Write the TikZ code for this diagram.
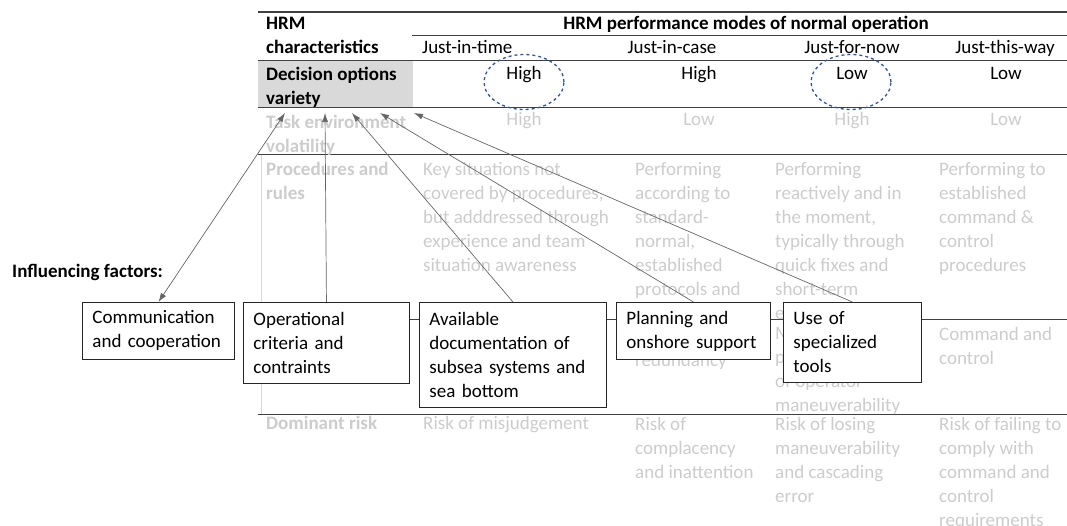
\documentclass[tikz,border=0pt]{standalone}
\usepackage{fontspec}
\setmainfont{Carlito}
\usepackage{xcolor}
\usetikzlibrary{positioning,arrows.meta,shapes.geometric}
\newcommand{\fs}{\fontsize{19}{24}\selectfont}
\definecolor{ringblue}{RGB}{47,85,151}
\colorlet{fadetext}{black!20}

\begin{document}
\begin{tikzpicture}[x=1pt,y=-1pt,
  every node/.style={font=\fs},
  txt/.style={anchor=north west,inner sep=0pt,align=left,yshift=-5pt},
  word/.style={anchor=north west,inner sep=0pt,execute at begin node=\strut},
  cword/.style={anchor=north,inner sep=0pt,execute at begin node=\strut},
  faded/.style={text=fadetext},
  rule/.style={draw=black!75,line width=1pt},
  factor/.style={draw=black!85,line width=0.9pt,fill=white,anchor=north west,align=left,
    inner xsep=10pt,inner ysep=0pt},
  link/.style={draw=black!60,line width=0.7pt,-{Latex[length=9pt,width=6pt]}},
  ring/.style={ellipse,draw=ringblue,dashed,line width=1.3pt,minimum width=80,minimum height=55}
]
  \useasboundingbox (0,0) rectangle (1067,526);

  % table
  \node[fill=black!15,anchor=north west,inner sep=0pt,minimum width=155,minimum height=47] (graycell) at (258,61) {};
  \draw[rule,line width=1.3pt] (258,12) -- (1067,12);
  \draw[rule,line width=0.8pt] (412,35) -- (1067,35);
  \foreach \y in {61,108,155,319,414}
    \draw[rule] (258,\y) -- (1067,\y);
  \draw[black!15,line width=0.5pt] (261,155) -- (261,414);

  \node[txt,font=\fs\bfseries] (hrmchar) at (266,12) {HRM\\characteristics};
  \node[cword,font=\fs\bfseries] (modes) at (746,13) {HRM performance modes of normal operation};
  \node[word] (jit) at (422,37) {Just-in-time};
  \node[cword] (jic) at (672,37) {Just-in-case};
  \node[cword] (jfn) at (852,37) {Just-for-now};
  \node[cword] (jtw) at (1005,37) {Just-this-way};

  \node[txt,font=\fs\bfseries] (decision) at (266,62) {Decision options\\variety};
  \node[cword] (dv1) at (524,63) {High};
  \node[cword] (dv2) at (699,63) {High};
  \node[cword] (dv3) at (852,63) {Low};
  \node[cword] (dv4) at (1006,63) {Low};

  % faded rows
  \node[txt,faded,font=\fs\bfseries] (volat) at (266,110) {Task environment\\volatility};
  \node[cword,faded] (tv1) at (524,109) {High};
  \node[cword,faded] (tv2) at (699,109) {Low};
  \node[cword,faded] (tv3) at (852,109) {High};
  \node[cword,faded] (tv4) at (1006,109) {Low};

  \node[txt,faded,font=\fs\bfseries] (proc) at (266,157) {Procedures and\\rules};
  \node[txt,faded] (pr1) at (423,157) {Key situations not\\covered by procedures,\\but adddressed through\\experience and team\\situation awareness};
  \node[txt,faded] (pr2) at (635,157) {Performing\\according to\\standard-\\normal,\\established\\protocols and};
  \node[txt,faded] (pr3) at (775,157) {Performing\\reactively and in\\the moment,\\typically through\\quick fixes and\\short-term\\e};
  \node[txt,faded] (pr4) at (939,157) {Performing to\\established\\command \&\\control\\procedures};

  \node[word,faded] (cc2) at (635,349) {redundancy};
  \node[txt,faded] (cc3) at (775,322) {M\\p\\of operator\\maneuverability};
  \node[txt,faded] (cc4) at (939,322) {Command and\\control};

  \node[word,faded,font=\fs\bfseries] (risk) at (266,412) {Dominant risk};
  \node[word,faded] (rk1) at (423,412) {Risk of misjudgement};
  \node[txt,faded] (rk2) at (635,412) {Risk of\\complacency\\and inattention};
  \node[txt,faded] (rk3) at (775,412) {Risk of losing\\maneuverability\\and cascading\\error};
  \node[txt,faded] (rk4) at (939,412) {Risk of failing to\\comply with\\command and\\control\\requirements};

  % influencing factors
  \node[word,font=\fs\bfseries] (influence) at (12,261) {Influencing factors:};
  \node[factor,minimum width=152,minimum height=57,text width=132pt] (comm) at (82,302) {Communication\\and cooperation};
  \node[factor,minimum width=166,minimum height=81,text width=146pt] (opcrit) at (243,302) {Operational\\criteria and\\contraints};
  \node[factor,minimum width=187,minimum height=105,text width=167pt] (avail) at (419,302) {Available\\documentation of\\subsea systems and\\sea bottom};
  \node[factor,minimum width=154,minimum height=57,text width=134pt] (onshore) at (616,302) {Planning and\\onshore support};
  \node[factor,minimum width=138,minimum height=80,text width=118pt] (tools) at (783,302) {Use of\\specialized\\tools};

  \coordinate (tip1) at (285,113);
  \coordinate (tip2) at (325,113);
  \coordinate (tip3) at (352,113);
  \coordinate (tip4) at (380,113);
  \coordinate (tip5) at (414,113);
  \draw[link,{Latex[length=9pt,width=6pt]}-{Latex[length=9pt,width=6pt]}] (comm.north) -- (tip1);
  \draw[link] (opcrit.north) -- (tip2);
  \draw[link] (avail.north) -- (tip3);
  \draw[link] (onshore.north) -- (tip4);
  \draw[link] (tools.north) -- (tip5);

  \node[ring] (ringhigh) at (524,82) {};
  \node[ring] (ringlow) at (851,82) {};
\end{tikzpicture}
\end{document}
